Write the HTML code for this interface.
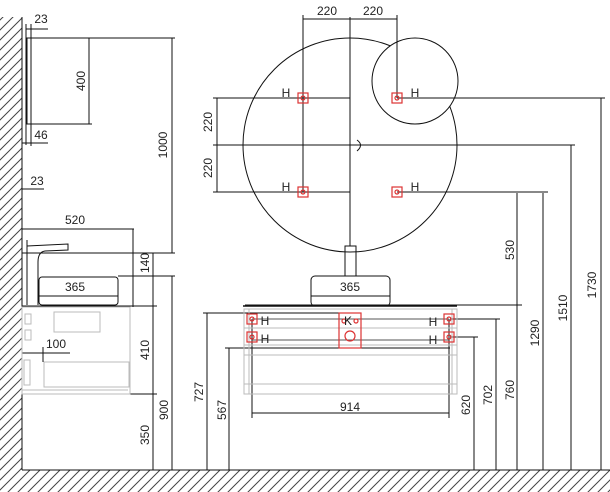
<!DOCTYPE html>
<html><head><style>body{margin:0;background:#fff}svg{display:block}text{font-family:"Liberation Sans",sans-serif;font-size:12px;fill:#222}</style></head>
<body>
<svg width="610" height="492" viewBox="0 0 610 492" xmlns="http://www.w3.org/2000/svg">
<defs>
<pattern id="h" width="10" height="10" patternUnits="userSpaceOnUse"><path d="M-2,12 L12,-2 M8,12 L12,8 M-2,2 L2,-2" stroke="#444" stroke-width="1"/></pattern>
</defs>
<rect x="0" y="17" width="22" height="453" fill="url(#h)"/>
<rect x="0" y="470" width="610" height="22" fill="url(#h)"/>
<g stroke="#111" stroke-width="1" fill="none">
<line x1="22" y1="17" x2="22" y2="470"/>
<line x1="22" y1="470" x2="610" y2="470"/>
<rect x="27" y="38" width="4" height="86"/>
<line x1="26" y1="29" x2="48" y2="29"/><line x1="26" y1="24" x2="26" y2="145"/><line x1="31" y1="24" x2="31" y2="146"/>
<line x1="26" y1="38" x2="175" y2="38"/>
<line x1="89" y1="38" x2="89" y2="124"/><line x1="31" y1="124" x2="92" y2="124"/>
<line x1="22" y1="143" x2="48" y2="143"/>
<line x1="172" y1="38" x2="172" y2="253"/>
<line x1="22" y1="189" x2="44" y2="189"/>
<line x1="22" y1="229" x2="134" y2="229"/><line x1="133" y1="229" x2="133" y2="307"/>
<line x1="27" y1="240" x2="27" y2="305"/>
<path d="M27,246 L68,244 L68,250 L45,251 Q38,252 38,262 L38,305"/>
<rect x="39" y="277" width="79" height="28" rx="3"/>
<line x1="39" y1="296" x2="118" y2="296"/>
<line x1="22" y1="253" x2="175" y2="253"/>
<line x1="118" y1="276" x2="175" y2="276"/>
<line x1="153" y1="253" x2="153" y2="470"/>
<line x1="172" y1="276" x2="172" y2="470"/>
<line x1="22" y1="306" x2="157" y2="306"/>
<line x1="130" y1="394" x2="157" y2="394"/>
<line x1="130" y1="309" x2="130" y2="394"/>
<line x1="22" y1="353" x2="70" y2="353"/><line x1="43" y1="347" x2="43" y2="362"/>
</g>
<g stroke="#bbb" stroke-width="1" fill="none">
<rect x="22" y="307" width="108" height="87"/>
<rect x="54" y="312" width="46" height="20"/><rect x="25" y="314" width="6" height="10"/><rect x="25" y="330" width="6" height="10"/>
<rect x="44" y="362" width="85" height="25"/><rect x="24" y="360" width="6" height="25"/>
<line x1="22" y1="390" x2="128" y2="390"/>
</g>
<g stroke="#111" stroke-width="1" fill="none">
<circle cx="350" cy="145" r="107"/>
<circle cx="415" cy="81" r="43" fill="#fff"/>
<line x1="350" y1="17" x2="350" y2="246"/>
<line x1="303" y1="19" x2="397" y2="19"/>
<line x1="303" y1="15" x2="303" y2="192"/><line x1="397" y1="15" x2="397" y2="98"/>
<line x1="213" y1="98" x2="350" y2="98"/><line x1="397" y1="98" x2="605" y2="98"/>
<line x1="213" y1="145" x2="575" y2="145"/>
<line x1="213" y1="192" x2="350" y2="192"/><line x1="397" y1="192" x2="548" y2="192"/>
<line x1="217" y1="98" x2="217" y2="192"/>
<path d="M357,140 Q364,145 357,151"/>
<rect x="345" y="246" width="11" height="30"/>
<rect x="311" y="276" width="79" height="30" rx="4"/>
<line x1="311" y1="296" x2="390" y2="296"/>
<line x1="243" y1="306" x2="457" y2="306" stroke-width="1.5"/>
<line x1="245" y1="305" x2="522" y2="305"/>
<line x1="517" y1="193" x2="517" y2="470"/>
<line x1="543" y1="193" x2="543" y2="470"/>
<line x1="571" y1="145" x2="571" y2="470"/>
<line x1="601" y1="98" x2="601" y2="470"/>
<line x1="450" y1="319" x2="500" y2="319"/><line x1="496" y1="319" x2="496" y2="470"/>
<line x1="450" y1="337" x2="478" y2="337"/><line x1="474" y1="337" x2="474" y2="470"/>
<line x1="203" y1="313" x2="350" y2="313"/><line x1="207" y1="313" x2="207" y2="470"/>
<line x1="225" y1="348" x2="450" y2="348"/><line x1="229" y1="348" x2="229" y2="470"/>
<line x1="252" y1="319" x2="252" y2="418"/><line x1="449" y1="319" x2="449" y2="418"/>
<line x1="252" y1="413" x2="449" y2="413"/>
<line x1="255" y1="394" x2="448" y2="394"/>
<line x1="252" y1="319" x2="449" y2="319" stroke="#555"/>
<line x1="252" y1="340" x2="449" y2="340" stroke="#555"/>
</g>
<g stroke="#bbb" stroke-width="1" fill="none">
<rect x="244" y="309" width="213" height="85"/>
<line x1="244" y1="328" x2="457" y2="328"/><line x1="244" y1="345" x2="457" y2="345"/>
<line x1="244" y1="355" x2="457" y2="355"/><line x1="244" y1="384" x2="457" y2="384"/>
<line x1="249" y1="309" x2="249" y2="394"/><line x1="452" y1="309" x2="452" y2="394"/>
</g>
<g stroke="#d33" stroke-width="1.2" fill="none">
<rect x="298" y="93" width="10" height="10"/><circle cx="303" cy="98" r="2"/>
<rect x="392" y="93" width="10" height="10"/><circle cx="397" cy="98" r="2"/>
<rect x="298" y="187" width="10" height="10"/><circle cx="303" cy="192" r="2"/>
<rect x="392" y="187" width="10" height="10"/><circle cx="397" cy="192" r="2"/>
<rect x="247" y="314" width="10" height="10"/><circle cx="252" cy="319" r="2"/>
<rect x="247" y="332" width="10" height="10"/><circle cx="252" cy="337" r="2"/>
<rect x="444" y="314" width="10" height="10"/><circle cx="449" cy="319" r="2"/>
<rect x="444" y="332" width="10" height="10"/><circle cx="449" cy="337" r="2"/>
<rect x="339" y="313" width="22" height="35"/>
<circle cx="344" cy="321" r="2"/><circle cx="356" cy="321" r="2"/><circle cx="350" cy="336" r="5"/>
</g>
<g>
<text x="327" y="15" text-anchor="middle">220</text><text x="373" y="15" text-anchor="middle">220</text>
<text x="286" y="97" text-anchor="middle">H</text><text x="415" y="97" text-anchor="middle">H</text>
<text x="286" y="191" text-anchor="middle">H</text><text x="415" y="191" text-anchor="middle">H</text>
<text x="350" y="291" text-anchor="middle">365</text>
<text x="75" y="291" text-anchor="middle">365</text>
<text x="41" y="23" text-anchor="middle">23</text>
<text x="41" y="139" text-anchor="middle">46</text>
<text x="37" y="185" text-anchor="middle">23</text>
<text x="75" y="224" text-anchor="middle">520</text>
<text x="56" y="348" text-anchor="middle">100</text>
<text x="265" y="325" text-anchor="middle">H</text><text x="265" y="343" text-anchor="middle">H</text>
<text x="433" y="326" text-anchor="middle">H</text><text x="433" y="344" text-anchor="middle">H</text>
<text x="348" y="325" text-anchor="middle">K</text>
<text x="350" y="411" text-anchor="middle">914</text>
<text transform="translate(85,81) rotate(-90)" text-anchor="middle">400</text>
<text transform="translate(167,145) rotate(-90)" text-anchor="middle">1000</text>
<text transform="translate(149,263) rotate(-90)" text-anchor="middle">140</text>
<text transform="translate(149,350) rotate(-90)" text-anchor="middle">410</text>
<text transform="translate(168,410) rotate(-90)" text-anchor="middle">900</text>
<text transform="translate(149,435) rotate(-90)" text-anchor="middle">350</text>
<text transform="translate(212,122) rotate(-90)" text-anchor="middle">220</text>
<text transform="translate(212,168) rotate(-90)" text-anchor="middle">220</text>
<text transform="translate(203,392) rotate(-90)" text-anchor="middle">727</text>
<text transform="translate(226,410) rotate(-90)" text-anchor="middle">567</text>
<text transform="translate(470,405) rotate(-90)" text-anchor="middle">620</text>
<text transform="translate(492,395) rotate(-90)" text-anchor="middle">702</text>
<text transform="translate(514,390) rotate(-90)" text-anchor="middle">760</text>
<text transform="translate(514,250) rotate(-90)" text-anchor="middle">530</text>
<text transform="translate(539,333) rotate(-90)" text-anchor="middle">1290</text>
<text transform="translate(567,308) rotate(-90)" text-anchor="middle">1510</text>
<text transform="translate(596,285) rotate(-90)" text-anchor="middle">1730</text>
</g>
</svg>
</body></html>
